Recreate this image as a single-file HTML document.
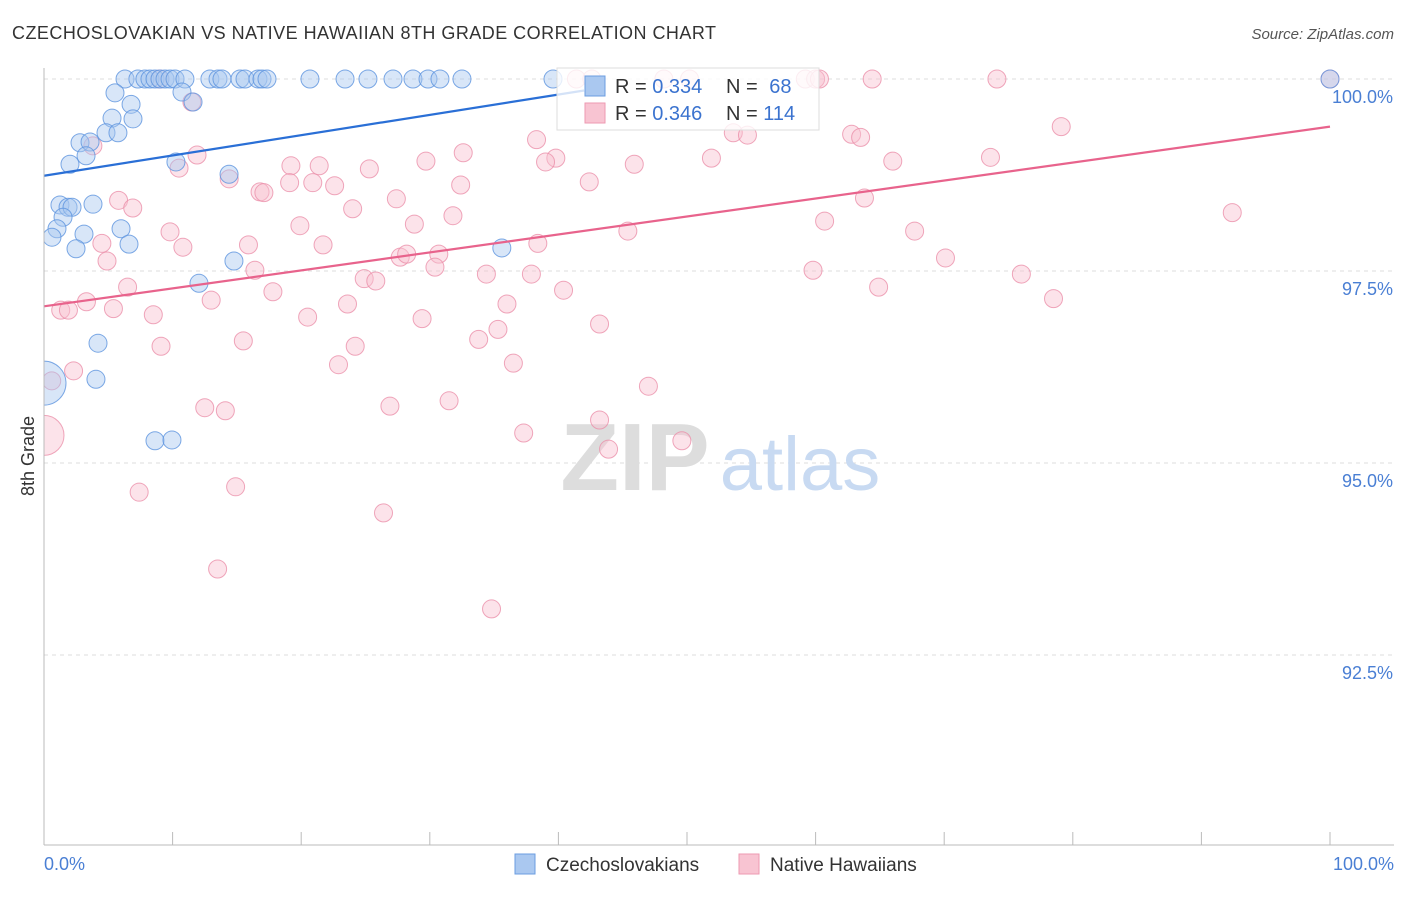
<!DOCTYPE html>
<html><head><meta charset="utf-8"><style>
body{margin:0;background:#fff;font-family:"Liberation Sans",sans-serif;}
svg text{font-family:"Liberation Sans",sans-serif;}
</style></head><body>
<svg id="chart" width="1406" height="892" viewBox="0 0 1406 892" xmlns="http://www.w3.org/2000/svg">
<defs><clipPath id="plotclip"><rect x="44" y="50" width="1360" height="795"/></clipPath></defs>
<text x="12" y="39" font-size="18" fill="#333" textLength="704">CZECHOSLOVAKIAN VS NATIVE HAWAIIAN 8TH GRADE CORRELATION CHART</text>
<text x="1394" y="39" font-size="15" fill="#555" font-style="italic" text-anchor="end">Source: ZipAtlas.com</text>
<g id="grid"></g>
<g>
<text x="635" y="490" font-size="96" font-family="Liberation Serif" fill="#ddd" text-anchor="middle" font-weight="bold">ZIP</text>
<text x="800" y="490" font-size="76" fill="#c8daf2" text-anchor="middle">atlas</text>
</g>
<g id="points" clip-path="url(#plotclip)"></g>
<g id="trends"></g>
<line x1="44" y1="68" x2="44" y2="845" stroke="#bbb"/>
<line x1="44" y1="845" x2="1394" y2="845" stroke="#bbb"/>
<text transform="translate(34,456) rotate(-90)" font-size="18" fill="#333" text-anchor="middle">8th Grade</text>
<text x="44" y="870" font-size="18" fill="#4a7fd4">0.0%</text>
<text x="1394" y="870" font-size="18" fill="#4a7fd4" text-anchor="end">100.0%</text>
<g>
<rect x="557" y="68" width="262" height="62" fill="#fff" fill-opacity="0.8" stroke="#ddd"/>
<rect x="585" y="76" width="20" height="20" fill="#aac8f0" stroke="#6b9de0"/>
<text x="615" y="93" font-size="20" fill="#333">R = <tspan fill="#3b73cf">0.334</tspan></text>
<text x="726" y="93" font-size="20" fill="#333">N = <tspan fill="#3b73cf" dx="6">68</tspan></text>
<rect x="585" y="103" width="20" height="20" fill="#f8c4d2" stroke="#ee9ab2"/>
<text x="615" y="120" font-size="20" fill="#333">R = <tspan fill="#3b73cf">0.346</tspan></text>
<text x="726" y="120" font-size="20" fill="#333">N = <tspan fill="#3b73cf">114</tspan></text>
</g>
<g>
<rect x="515" y="854" width="20" height="20" fill="#aac8f0" stroke="#6b9de0"/>
<text x="546" y="871" font-size="19" fill="#333">Czechoslovakians</text>
</g>
<g>
<rect x="739" y="854" width="20" height="20" fill="#f8c4d2" stroke="#ee9ab2"/>
<text x="770" y="871" font-size="19" fill="#333">Native Hawaiians</text>
</g>
</svg>
<script>
const yTicks=[100,97.5,95,92.5];
const yTickLabels=["100.0%","97.5%","95.0%","92.5%"];
const blueX=[6.3,7.3,7.85,8.24,8.63,9.02,9.41,9.8,10.19,10.96,12.9,13.53,13.84,15.24,15.63,16.64,16.95,17.34,20.68,23.41,25.19,27.14,28.69,29.86,30.79,32.5,39.58,100,
5.52,10.73,6.77,11.59,5.29,6.92,4.82,5.75,2.8,3.58,3.27,2.02,10.26,14.39,1.24,1.87,3.81,2.18,1.48,1.01,3.11,0.62,5.99,6.61,2.49,35.6,14.77,12.05,4.2,4.04,8.63,9.95,0];
const blueY=[100,100,100,100,100,100,100,100,100,100,100,100,100,100,100,100,100,100,100,100,100,100,100,100,100,100,100,100,
99.82,99.83,99.67,99.7,99.49,99.48,99.3,99.3,99.17,99.18,99.0,98.89,98.92,98.76,98.36,98.33,98.37,98.33,98.2,98.05,97.98,97.94,98.05,97.85,97.79,97.8,97.63,97.34,96.56,96.09,95.29,95.3,96.04];
const blueR=[9,9,9,9,9,9,9,9,9,9,9,9,9,9,9,9,9,9,9,9,9,9,9,9,9,9,9,9,9,9,9,9,9,9,9,9,9,9,9,9,9,9,9,9,9,9,9,9,9,9,9,9,9,9,9,9,9,9,9,9,22];
const pinkX=[41.4,42.6,48.2,50.2,59.2,60.0,60.3,64.4,74.1,100,9.0,11.5,79.1,3.8,38.3,53.6,54.7,62.8,63.5,11.9,32.6,39.8,39.0,29.7,45.9,51.9,66.0,73.6,10.5,19.2,21.4,25.3,14.4,19.1,20.9,22.6,16.8,17.1,32.4,42.4,5.8,6.9,27.4,24.0,31.8,63.8,92.4,19.9,28.8,9.8,60.7,45.4,67.7,4.5,10.8,21.7,15.9,38.4,27.7,28.2,30.7,4.9,70.1,16.4,30.4,24.9,25.8,34.4,37.9,59.8,76.0,6.5,17.8,40.4,64.9,3.3,13.0,23.6,36.0,78.5,1.3,1.9,5.4,8.5,20.5,29.4,43.2,35.3,15.5,9.1,24.2,33.8,22.9,36.5,2.3,0.6,47.0,12.5,14.1,26.9,31.5,43.2,37.3,43.9,49.6,7.4,14.9,26.4,13.5,34.8,0];
const pinkY=[100,100,100,100,100,100,100,100,100,100,100,99.70,99.38,99.13,99.21,99.30,99.27,99.28,99.24,99.01,99.04,98.97,98.92,98.93,98.89,98.97,98.93,98.98,98.84,98.87,98.87,98.83,98.70,98.65,98.65,98.61,98.53,98.52,98.62,98.66,98.42,98.32,98.44,98.31,98.22,98.45,98.26,98.09,98.11,98.01,98.15,98.02,98.02,97.86,97.81,97.84,97.84,97.86,97.68,97.72,97.72,97.63,97.67,97.51,97.55,97.40,97.37,97.46,97.46,97.51,97.46,97.29,97.23,97.25,97.29,97.10,97.12,97.07,97.07,97.14,96.99,96.99,97.01,96.93,96.90,96.88,96.81,96.74,96.59,96.52,96.52,96.61,96.28,96.30,96.20,96.07,96.00,95.72,95.68,95.74,95.81,95.56,95.39,95.18,95.29,94.62,94.69,94.35,93.62,93.10,95.36];
const blueTrend=[0,98.74,42,99.85];
const pinkTrend=[0,97.04,100,99.38];
const xs=v=>44+v*12.86;
const ys=v=>79+(100-v)*76.8;
const NS="http://www.w3.org/2000/svg";
const grid=document.getElementById('grid');
yTicks.forEach((t,i)=>{
 const l=document.createElementNS(NS,'line');
 l.setAttribute('x1',44);l.setAttribute('x2',1394);l.setAttribute('y1',ys(t));l.setAttribute('y2',ys(t));
 l.setAttribute('stroke','#ddd');l.setAttribute('stroke-dasharray','4,4');
 
 
 grid.appendChild(l);
 const tx=document.createElementNS(NS,'text');
 tx.setAttribute('x',1393);tx.setAttribute('y',ys(t)+24);tx.setAttribute('text-anchor','end');
 tx.setAttribute('font-size','18');tx.setAttribute('fill','#4a7fd4');tx.textContent=yTickLabels[i];
 
 
 grid.appendChild(tx);
});
for(let k=1;k<=10;k++){
 const l=document.createElementNS(NS,'line');
 const x=xs(k*10);
 l.setAttribute('x1',x);l.setAttribute('x2',x);l.setAttribute('y1',832);l.setAttribute('y2',845);l.setAttribute('stroke','#bbb');
 
 
 grid.appendChild(l);
}
const pts=document.getElementById('points');
function dot(x,y,r,fill,stroke,name){
 const c=document.createElementNS(NS,'circle');
 c.setAttribute('cx',xs(x));c.setAttribute('cy',ys(y));c.setAttribute('r',r);
 c.setAttribute('fill',fill);c.setAttribute('fill-opacity','0.45');c.setAttribute('stroke',stroke);c.setAttribute('stroke-opacity','0.8');
 
 
 pts.appendChild(c);
}
pinkX.forEach((x,i)=>dot(x,pinkY[i],i===pinkX.length-1?20:9,'#f8c0d0','#eb90aa','native-hawaiian-point'));
blueX.forEach((x,i)=>dot(x,blueY[i],blueR[i]||9,'#a9c8f0','#5c94df','czechoslovakian-point'));
const tr=document.getElementById('trends');
function trend(a,col,name){
 const l=document.createElementNS(NS,'line');
 l.setAttribute('x1',xs(a[0]));l.setAttribute('y1',ys(a[1]));l.setAttribute('x2',xs(a[2]));l.setAttribute('y2',ys(a[3]));
 l.setAttribute('stroke',col);l.setAttribute('stroke-width','2.2');
 
 
 tr.appendChild(l);
}
trend(blueTrend,'#2a6fd6','czechoslovakian-trend-line');
trend(pinkTrend,'#e8638c','native-hawaiian-trend-line');
</script>
</body></html>
